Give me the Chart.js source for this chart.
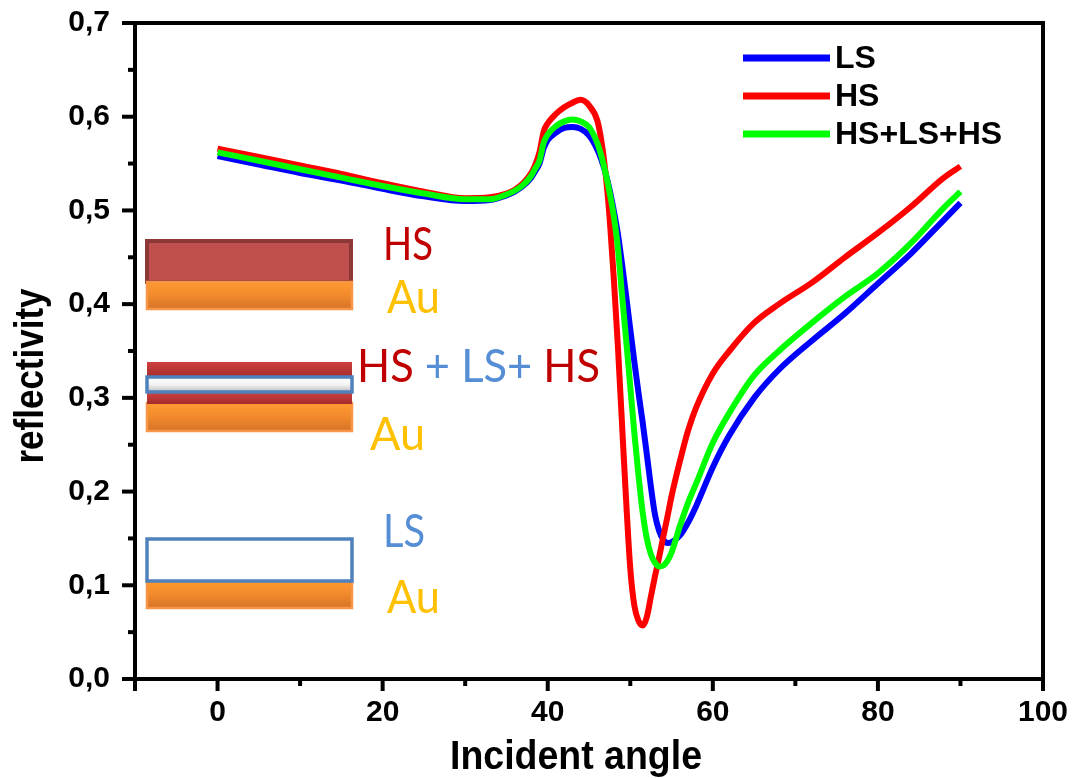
<!DOCTYPE html>
<html>
<head>
<meta charset="utf-8">
<script src="https://cdn.jsdelivr.net/npm/chart.js@4/dist/chart.umd.min.js"></script>
<style>
html,body{margin:0;padding:0;background:#fff;}
</style>
</head>
<body>
<canvas id="c" width="1075" height="778"></canvas>
<script>
// ---- data ----
const angles = [0,5,10,15,20,25,30,33,35,36,37,38,38.5,39,39.5,40,41,42,43,44,45,46,46.5,47,47.5,48,48.5,49,49.5,50,50.5,51,51.5,52,52.5,53,53.5,54,54.5,55,56,57,58,60,62,65,68,72,76,80,84,88,90];
const lsValues = [0.558,0.549,0.540,0.532,0.523,0.515,0.510,0.511,0.516,0.520,0.526,0.535,0.542,0.550,0.566,0.575,0.583,0.588,0.589,0.587,0.580,0.565,0.554,0.540,0.522,0.500,0.475,0.443,0.409,0.373,0.338,0.305,0.274,0.240,0.205,0.175,0.158,0.149,0.145,0.146,0.153,0.167,0.185,0.226,0.260,0.300,0.330,0.361,0.390,0.422,0.454,0.490,0.508];
const hsValues = [0.566,0.557,0.548,0.539,0.529,0.520,0.513,0.514,0.518,0.522,0.529,0.540,0.549,0.562,0.584,0.593,0.603,0.610,0.615,0.618,0.612,0.596,0.574,0.540,0.492,0.428,0.355,0.272,0.190,0.118,0.078,0.062,0.057,0.066,0.088,0.110,0.130,0.152,0.173,0.195,0.232,0.265,0.290,0.326,0.350,0.380,0.400,0.423,0.450,0.476,0.504,0.535,0.547];
const hsLsHsValues = [0.562,0.553,0.544,0.535,0.526,0.518,0.512,0.512,0.517,0.521,0.527,0.537,0.545,0.553,0.572,0.581,0.590,0.595,0.597,0.595,0.589,0.572,0.558,0.540,0.519,0.494,0.460,0.410,0.362,0.312,0.262,0.217,0.178,0.150,0.133,0.124,0.120,0.121,0.126,0.135,0.163,0.188,0.209,0.252,0.284,0.324,0.350,0.380,0.408,0.433,0.465,0.503,0.520];
const seriesLabels = ['LS','HS','HS+LS+HS'];
const xTickValues = [-10,0,20,40,60,80,100];
const yTickValues = [0,0.1,0.2,0.3,0.4,0.5,0.6,0.7];

const toPoints = vals => angles.map((a,i)=>({x:a,y:vals[i]}));
const AXIS_FONT = '"Liberation Sans", Arial, sans-serif';
const SCHEME_FONT = 'Lato, "Open Sans", sans-serif';

function fitText(ctx, parts, left, baseline, targetW, font){
  ctx.save();
  ctx.font = font;
  ctx.textBaseline = 'alphabetic';
  ctx.textAlign = 'left';
  let total = 0;
  parts.forEach(p=>{ total += ctx.measureText(p.t).width; });
  const sx = targetW/total;
  ctx.translate(left, baseline);
  ctx.scale(sx,1);
  let x = 0;
  parts.forEach(p=>{ ctx.fillStyle = p.c; ctx.fillText(p.t, x, 0); x += ctx.measureText(p.t).width; });
  ctx.restore();
}

function auBlock(ctx, x1, y1, x2, y2){
  const g = ctx.createLinearGradient(0,y1,0,y2);
  g.addColorStop(0,'#FF9A30'); g.addColorStop(0.5,'#F28A2C'); g.addColorStop(1,'#D57328');
  ctx.fillStyle = g; ctx.fillRect(x1,y1,x2-x1,y2-y1);
  ctx.strokeStyle = '#F79646'; ctx.lineWidth = 2.5; ctx.strokeRect(x1,y1,x2-x1,y2-y1);
}
function redStripe(ctx, x1, y1, x2, y2){
  const g = ctx.createLinearGradient(0,y1,0,y2);
  g.addColorStop(0,'#CF4040'); g.addColorStop(1,'#A52C2C');
  ctx.fillStyle = g; ctx.fillRect(x1,y1,x2-x1,y2-y1);
}

const overlay = {
  id:'overlay',
  beforeDatasetsDraw(chart){
    const ctx = chart.ctx;
    ctx.save();
    // HS on Au
    ctx.fillStyle = '#C0504D'; ctx.fillRect(147,241,204,41);
    ctx.strokeStyle = '#8C3836'; ctx.lineWidth = 4; ctx.strokeRect(147,241,204,41);
    auBlock(ctx,147,282,352,309);
    // HS + LS + HS on Au
    auBlock(ctx,147,403,352,431);
    redStripe(ctx,147,362,352,377);
    redStripe(ctx,147,392,352,404);
    const w = ctx.createLinearGradient(0,377,0,392);
    w.addColorStop(0,'#FFFFFF'); w.addColorStop(0.5,'#F4F4F4'); w.addColorStop(1,'#BDBDBD');
    ctx.fillStyle = w; ctx.fillRect(147,377,205,15);
    ctx.strokeStyle = '#4F81BD'; ctx.lineWidth = 3.5; ctx.strokeRect(147,377,205,15);
    // LS on Au
    auBlock(ctx,147,580,352,608);
    ctx.fillStyle = '#FFFFFF'; ctx.fillRect(147,539,205,42);
    ctx.strokeStyle = '#4F81BD'; ctx.lineWidth = 3.5; ctx.strokeRect(147,539,205,42);
    // labels
    const f = '46px ' + SCHEME_FONT;
    const red = '#C00000', blue = '#558ED5', gold = '#FFC000';
    fitText(ctx,[{t:'HS',c:red}],383,260,50,f);
    fitText(ctx,[{t:'Au',c:gold}],387,313,53,f);
    fitText(ctx,[{t:'HS',c:red},{t:' + LS+ ',c:blue},{t:'HS',c:red}],357,382,243,f);
    fitText(ctx,[{t:'Au',c:gold}],370,450,55,f);
    fitText(ctx,[{t:'LS',c:blue}],383,547,42,f);
    fitText(ctx,[{t:'Au',c:gold}],387,613,53,f);
    ctx.restore();
  },
  afterDraw(chart){
    const ctx = chart.ctx;
    const xs = chart.scales.x, ys = chart.scales.y;
    ctx.save();
    ctx.strokeStyle = '#000000'; ctx.lineWidth = 4; ctx.lineCap = 'butt';
    ctx.beginPath();
    ctx.rect(xs.left, ys.top, xs.right-xs.left, ys.bottom-ys.top);
    ctx.stroke();
    // x ticks (major + minor)
    for (let v=-10; v<=100; v+=10){
      const px = xs.getPixelForValue(v);
      const major = (v % 20 === 0) || v === -10;
      ctx.beginPath(); ctx.moveTo(px, ys.bottom); ctx.lineTo(px, ys.bottom + (major?12:7)); ctx.stroke();
    }
    // y ticks (major + minor)
    for (let i=0;i<=14;i++){
      const py = ys.getPixelForValue(i*0.05);
      const major = i % 2 === 0;
      ctx.beginPath(); ctx.moveTo(xs.left, py); ctx.lineTo(xs.left - (major?13:7), py); ctx.stroke();
    }
    // legend
    const rowsY = [58,96,134];
    chart.data.datasets.forEach((ds,i)=>{
      ctx.strokeStyle = ds.borderColor; ctx.lineWidth = 7;
      ctx.beginPath(); ctx.moveTo(743,rowsY[i]); ctx.lineTo(830,rowsY[i]); ctx.stroke();
      ctx.fillStyle = '#000'; ctx.font = 'bold 32px ' + AXIS_FONT;
      ctx.textBaseline = 'alphabetic'; ctx.textAlign = 'left';
      ctx.fillText(ds.label, 835, rowsY[i] + 10);
    });
    // axis titles
    fitText(ctx,[{t:'Incident angle',c:'#000'}],450,769,252,'bold 41px ' + AXIS_FONT);
    ctx.save();
    ctx.translate(43, 376 + 87.5);
    ctx.rotate(-Math.PI/2);
    fitText(ctx,[{t:'reflectivity',c:'#000'}],0,0,175,'bold 41px ' + AXIS_FONT);
    ctx.restore();
    ctx.restore();
  }
};

const colors = ['#0000FF','#FF0000','#00FF00'];
const valueSets = [lsValues, hsValues, hsLsHsValues];
const datasets = valueSets.map((vals,i)=>({
  label: seriesLabels[i],
  data: toPoints(vals),
  borderColor: colors[i],
  backgroundColor: colors[i],
  borderWidth: 6,
  pointRadius: 0,
  showLine: true,
  fill: false,
  cubicInterpolationMode: 'monotone',
  order: 3 - i
}));

new Chart(document.getElementById('c'), {
  type: 'scatter',
  data: { datasets },
  options: {
    responsive: false,
    animation: false,
    devicePixelRatio: 1,
    layout: { padding: { left: 0, top: 23, right: 32, bottom: 0 } },
    plugins: { legend: { display: false }, tooltip: { enabled: false }, title: { display: false } },
    scales: {
      x: {
        type: 'linear', min: -10, max: 100,
        grid: { display: false, drawTicks: false },
        border: { display: false },
        afterFit: s => { s.height = 99; s.paddingLeft = 0; s.paddingRight = 0; },
        afterBuildTicks: s => { s.ticks = xTickValues.map(v=>({value:v})); },
        ticks: { color: '#000', padding: 16, maxRotation: 0, autoSkip: false,
                 font: { family: AXIS_FONT, size: 30, weight: 'bold' },
                 callback: v => (v < 0 ? '' : String(v)) }
      },
      y: {
        type: 'linear', min: 0, max: 0.7,
        grid: { display: false, drawTicks: false },
        border: { display: false },
        afterFit: s => { s.width = 135; s.paddingTop = 0; s.paddingBottom = 0; },
        afterBuildTicks: s => { s.ticks = yTickValues.map(v=>({value:v})); },
        ticks: { color: '#000', padding: 25, autoSkip: false,
                 font: { family: AXIS_FONT, size: 30, weight: 'bold' },
                 callback: v => Number(v).toFixed(1).replace('.', ',') }
      }
    }
  },
  plugins: [overlay]
});
</script>
</body>
</html>
